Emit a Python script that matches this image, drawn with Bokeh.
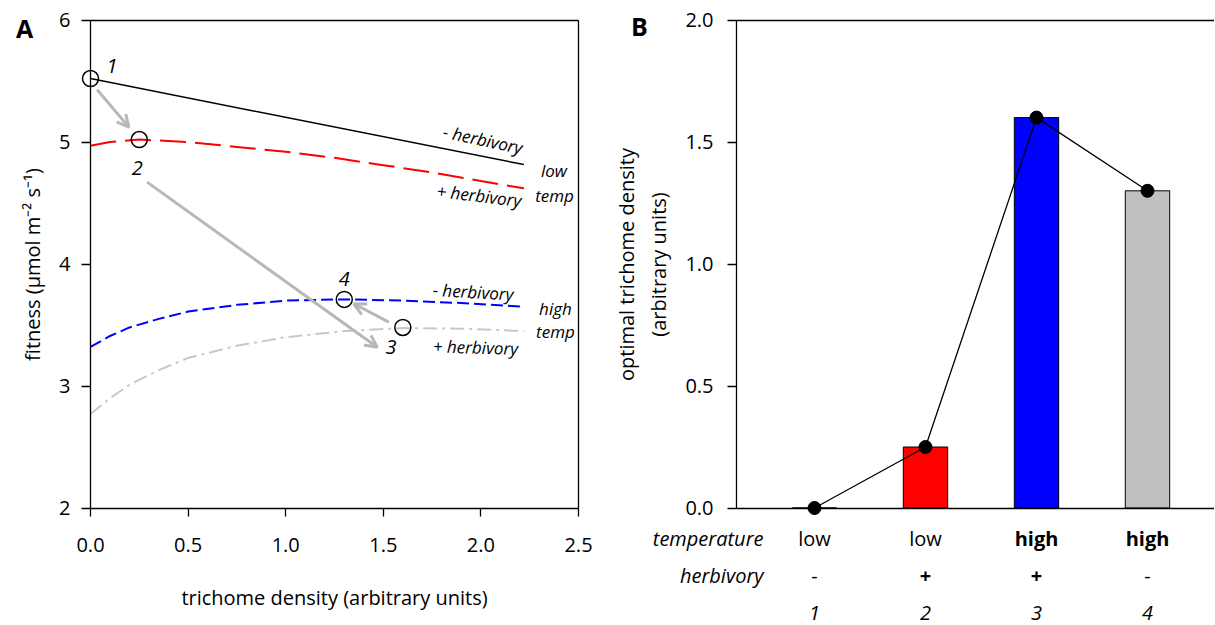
from bokeh.plotting import figure
from bokeh.models import (Arrow, OpenHead, FixedTicker, LinearAxis, Range1d,
                          NumeralTickFormatter, ColumnDataSource)
from bokeh.core.properties import value
from bokeh.layouts import row
from bokeh.embed import file_html
from bokeh.resources import INLINE

FONT = "Open Sans"

# ---------------- Panel A data ----------------
low_nh_x = [0.0, 2.22]
low_nh_y = [5.52, 4.815]

low_h_x = [0.0, 0.1, 0.25, 0.5, 0.75, 1.0, 1.25, 1.5, 1.75, 2.0, 2.22]
low_h_y = [4.97, 5.00, 5.02, 5.00, 4.96, 4.92, 4.87, 4.81, 4.75, 4.68, 4.62]

high_nh_x = [0.0, 0.1, 0.2, 0.35, 0.5, 0.75, 1.0, 1.3, 1.6, 1.9, 2.22]
high_nh_y = [3.32, 3.41, 3.48, 3.55, 3.61, 3.665, 3.70, 3.71, 3.70, 3.68, 3.65]

high_h_x = [0.0, 0.1, 0.2, 0.35, 0.5, 0.75, 1.0, 1.3, 1.6, 1.9, 2.22]
high_h_y = [2.77, 2.90, 3.01, 3.13, 3.23, 3.33, 3.40, 3.45, 3.475, 3.47, 3.45]

opt_x = [0.0, 0.25, 1.6, 1.3]
opt_y = [5.52, 5.02, 3.48, 3.71]
opt_names = ["1", "2", "3", "4"]
opt_label_x = [0.11, 0.24, 1.54, 1.30]
opt_label_y = [5.62, 4.79, 3.32, 3.88]

arrow_x0 = [0.034, 0.290, 1.528]
arrow_y0 = [5.428, 4.671, 3.523]
arrow_x1 = [0.197, 1.469, 1.349]
arrow_y1 = [5.122, 3.318, 3.674]

curve_texts = ["- herbivory", "low", "temp", "+ herbivory", "- herbivory", "high", "temp", "+ herbivory"]
curve_text_x = [2.01, 2.374, 2.377, 1.99, 1.96, 2.382, 2.382, 1.972]
curve_text_y = [5.02, 4.766, 4.561, 4.561, 3.772, 3.633, 3.447, 3.318]
curve_text_angle = [-0.21, 0.0, 0.0, -0.12, -0.06, 0.0, 0.0, -0.03]

# ---------------- Panel B data ----------------
scenario = [1, 2, 3, 4]
scenario_labels = ["1", "2", "3", "4"]
temperature = ["low", "low", "high", "high"]
herbivory = ["-", "+", "+", "-"]
optimal_density = [0.0, 0.25, 1.6, 1.3]
bar_colors = ["#ff0000", "#ff0000", "#0000ff", "#c0c0c0"]
row_headers = ["temperature", "herbivory"]


def make_axis(ticks, bounds, loc, label=None, fmt=None, tick_out=9, label_standoff=10,
              axis_standoff=10):
    ax = LinearAxis(ticker=FixedTicker(ticks=ticks), bounds=bounds, fixed_location=loc)
    if fmt is not None:
        ax.formatter = fmt
    ax.axis_line_color = "black"
    ax.axis_line_width = 1.3
    ax.major_tick_line_color = "black"
    ax.major_tick_line_width = 1.3
    ax.major_tick_in = 0
    ax.major_tick_out = tick_out
    ax.minor_tick_line_color = None
    ax.major_label_text_font = FONT
    ax.major_label_text_font_size = "20px"
    ax.major_label_text_color = "black"
    ax.major_label_standoff = label_standoff
    if not ticks:
        ax.major_label_text_font_size = "0px"
        ax.major_tick_line_color = None
    if label is not None:
        ax.axis_label = label
        ax.axis_label_text_font = FONT
        ax.axis_label_text_font_size = "20px"
        ax.axis_label_text_font_style = "normal"
        ax.axis_label_text_color = "black"
        ax.axis_label_standoff = axis_standoff
    return ax


def add_text(p, xs, ys, texts, size, style, align="center", angle=None):
    data = dict(x=xs, y=ys, text=texts)
    if angle is not None:
        data["angle"] = angle
    src = ColumnDataSource(data)
    p.text(x="x", y="y", text="text", source=src, angle="angle" if angle is not None else 0,
           text_font=value(FONT), text_font_size=value(size), text_font_style=value(style),
           text_align=value(align), text_baseline=value("middle"), text_color="black")


# ---------------- Panel A ----------------
# page pixels: x 0 -> 90, 2.5 -> 578 ; y 6 -> 19.5, 2 -> 507.5
pa = figure(width=600, height=624,
            x_range=Range1d(-90 / 195.2, 2.5 + 22 / 195.2),
            y_range=Range1d(2 - 116.5 / 122.0, 6 + 19.5 / 122.0),
            output_backend="svg", toolbar_location=None,
            x_axis_location=None, y_axis_location=None,
            min_border=0, min_border_left=0, min_border_right=0,
            min_border_top=0, min_border_bottom=0)
pa.grid.visible = False
pa.outline_line_color = None

pa.add_layout(make_axis([2, 3, 4, 5, 6], (2, 6), 0, label="fitness (µmol m⁻² s⁻¹)",
                        label_standoff=11, axis_standoff=10), "left")
pa.add_layout(make_axis([0, 0.5, 1.0, 1.5, 2.0, 2.5], (0, 2.5), 2,
                        label="trichome density (arbitrary units)",
                        fmt=NumeralTickFormatter(format="0.0"), tick_out=8,
                        label_standoff=22, axis_standoff=28), "below")
pa.add_layout(make_axis([], (0, 2.5), 6), "above")
pa.add_layout(make_axis([], (2, 6), 2.5), "right")

pa.line(low_nh_x, low_nh_y, line_color="black", line_width=1.5)
pa.line(low_h_x, low_h_y, line_color="#ff0000", line_width=2, line_dash="26 9")
pa.line(high_nh_x, high_nh_y, line_color="#0000ff", line_width=2, line_dash="12 5")
pa.line(high_h_x, high_h_y, line_color="#c8c8c8", line_width=2, line_dash="14 5 3 5")

for i in range(len(arrow_x0)):
    pa.add_layout(Arrow(end=OpenHead(size=12, line_color="#b8b8b8", line_width=3),
                        x_start=arrow_x0[i], y_start=arrow_y0[i],
                        x_end=arrow_x1[i], y_end=arrow_y1[i],
                        line_color="#b8b8b8", line_width=3))

pa.scatter(opt_x, opt_y, size=16, marker="circle", fill_color="white", fill_alpha=0,
           line_color="black", line_width=1.5)

add_text(pa, opt_label_x, opt_label_y, opt_names, "20px", "italic")
add_text(pa, curve_text_x, curve_text_y, curve_texts, "17px", "italic", angle=curve_text_angle)
add_text(pa, [-90 / 195.2 + 24 / 195.2], [6 - 8.0 / 122.0], ["A"], "25px", "bold")

# ---------------- Panel B ----------------
# page pixels: x 1 -> 814 (111 px per unit), figure starts at page x 600 ; y 2 -> 19.5, 0 -> 507.5
xb0 = 1 - 214 / 111.0
yaxis_loc = 1 - 78 / 111.0
pb = figure(width=614, height=624,
            x_range=Range1d(xb0, 1 + 400 / 111.0),
            y_range=Range1d(-116.5 / 244.0, 2 + 19.5 / 244.0),
            output_backend="svg", toolbar_location=None,
            x_axis_location=None, y_axis_location=None,
            min_border=0, min_border_left=0, min_border_right=0,
            min_border_top=0, min_border_bottom=0)
pb.grid.visible = False
pb.outline_line_color = None

pb.add_layout(make_axis([0, 0.5, 1.0, 1.5, 2.0], (0, 2), yaxis_loc,
                        label="optimal trichome density\n(arbitrary units)",
                        fmt=NumeralTickFormatter(format="0.0"),
                        label_standoff=14, axis_standoff=10), "left")
pb.add_layout(make_axis([], (yaxis_loc, 1 + 400 / 111.0), 0), "below")
pb.add_layout(make_axis([], (yaxis_loc, 1 + 400 / 111.0), 2), "above")

src = ColumnDataSource(dict(x=scenario, top=optimal_density, color=bar_colors))
pb.vbar(x="x", top="top", bottom=0, width=0.4, fill_color="color", line_color="black",
        line_width=1, source=src)
pb.line(scenario, optimal_density, line_color="black", line_width=1.3)
pb.scatter(scenario, optimal_density, size=13, marker="circle", fill_color="black",
           line_color="black")

hx = 1 + (763 - 814) / 111.0
row_y = [-30.5 / 244.0, -67.5 / 244.0, -104.5 / 244.0]
add_text(pb, [hx, hx], row_y[:2], row_headers, "20px", "italic", align="right")

temp_src = ColumnDataSource(dict(x=scenario, y=[row_y[0]] * 4, text=temperature,
                                 style=["bold" if t == "high" else "normal" for t in temperature]))
pb.text(x="x", y="y", text="text", source=temp_src, text_font=value(FONT),
        text_font_size=value("20px"), text_font_style="style", text_align=value("center"),
        text_baseline=value("middle"), text_color="black")
herb_src = ColumnDataSource(dict(x=scenario, y=[row_y[1]] * 4, text=herbivory,
                                 style=["bold" if h == "+" else "normal" for h in herbivory]))
pb.text(x="x", y="y", text="text", source=herb_src, text_font=value(FONT),
        text_font_size=value("20px"), text_font_style="style", text_align=value("center"),
        text_baseline=value("middle"), text_color="black")
add_text(pb, scenario, [row_y[2]] * 4, scenario_labels, "20px", "italic")

add_text(pb, [1 + (639 - 814) / 111.0], [2 - 6.0 / 244.0], ["B"], "25px", "bold")

layout = row(pa, pb)
open("out.html", "w").write(file_html(layout, INLINE))
